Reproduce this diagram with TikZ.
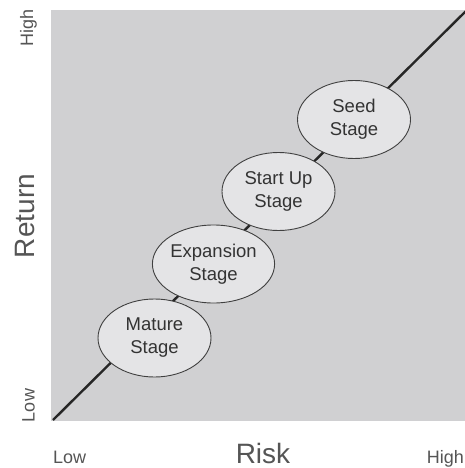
\documentclass[tikz,border=0pt]{standalone}
\usepackage{fontspec}
\setmainfont{Liberation Sans}
\usetikzlibrary{shapes.geometric}
\definecolor{panel}{HTML}{D0D0D2}
\definecolor{ellfill}{HTML}{E4E4E6}
\definecolor{ellline}{HTML}{404040}
\definecolor{txtdark}{HTML}{333333}
\definecolor{axtxt}{HTML}{555555}
\tikzset{
  stagebox/.style={ellipse, draw=ellline, line width=0.9pt, fill=ellfill,
    minimum width=113pt, minimum height=78pt, inner sep=0pt, align=center,
    text=txtdark, font=\fontsize{18.5}{23}\selectfont},
  axlabel/.style={text=axtxt, font=\fontsize{18}{20}\selectfont, inner sep=0pt},
  axtitle/.style={text=axtxt, font=\fontsize{28}{30}\selectfont, inner sep=0pt},
}
\begin{document}
\begin{tikzpicture}[x=1pt,y=-1pt]
\useasboundingbox (0,0) rectangle (465,468);
\fill[panel] (51,10) rectangle (466,421);
\coordinate (lo) at (53,420);
\coordinate (hi) at (467,10);
\draw[line width=2.4pt, color=black!85] (lo) -- (hi);
\node[stagebox] (seed) at (354,119.5) {Seed\\Stage};
\node[stagebox] (startup) at (278.5,191.5) {Start Up\\Stage};
\node[stagebox] (expansion) at (213.5,264) {Expansion\\Stage};
\node[stagebox] (mature) at (154.5,338) {Mature\\Stage};
\node[axtitle, rotate=90] (return) at (25,216) {Return};
\node[axlabel, rotate=90] (rhigh) at (28.5,27.5) {High};
\node[axlabel, rotate=90] (rlow) at (28.5,405.5) {Low};
\node[axtitle] (risk) at (263,453) {Risk};
\node[axlabel, anchor=base west] (xlow) at (53,463) {Low};
\node[axlabel, anchor=base east] (xhigh) at (464,463) {High};
\end{tikzpicture}
\end{document}
